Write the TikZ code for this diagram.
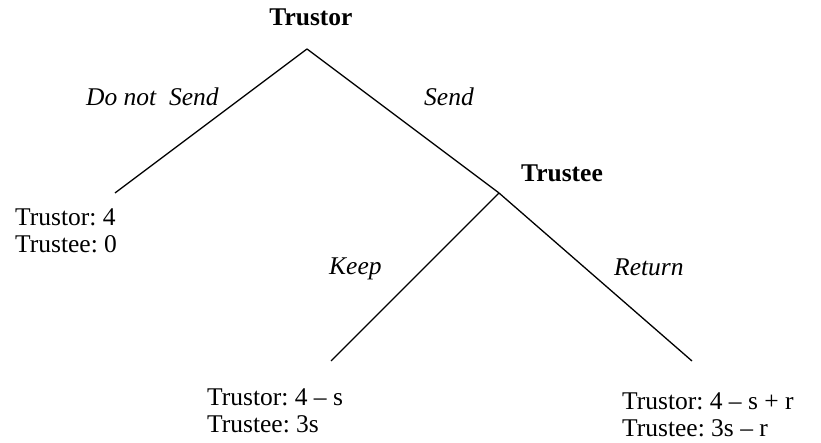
\documentclass[tikz,border=0pt]{standalone}
\usepackage{fontspec}
\setmainfont{Liberation Serif}
\usetikzlibrary{positioning}
\frenchspacing

\begin{document}
\begin{tikzpicture}[x=1pt, y=-1pt,
        every node/.style={inner sep=0pt, font=\fontsize{25.5}{27}\selectfont},
        pl/.style={font=\fontsize{25.5}{27}\selectfont\bfseries},
        act/.style={font=\fontsize{25.5}{27}\selectfont\itshape},
        pay/.style={align=left, anchor=north west},
        br/.style={line width=1.3pt}]
      \useasboundingbox (0,0) rectangle (821,443);
      % tree vertices
      \coordinate (root) at (307,49);
      \coordinate (nosend) at (115,193);
      \coordinate (tee) at (499,193);
      \coordinate (keep) at (331,361);
      \coordinate (ret) at (692,361);
      \draw[br] (root) -- (nosend);
      \draw[br] (root) -- (tee);
      \draw[br] (tee) -- (keep);
      \draw[br] (tee) -- (ret);
      % players
      \node[pl, anchor=base] (trustor) at (311,26) {Trustor};
      \node[pl, anchor=base west] (trustee) at (521,182) {Trustee};
      % actions
      \node[act, anchor=base west] (dns) at (86,106) {Do not\ \ Send};
      \node[act, anchor=base west] (send) at (424,106) {Send};
      \node[act, anchor=base west] (kp) at (329,275) {Keep};
      \node[act, anchor=base west] (rt) at (614,276) {Return};
      % payoffs
      \node[pay] (pay1) at (15,209) {Trustor: 4\\Trustee: 0};
      \node[pay] (pay2) at (207,389) {Trustor: 4 -- s\\Trustee: 3s};
      \node[pay] (pay3) at (622,393) {Trustor: 4 -- s + r\\Trustee: 3s -- r};
    \end{tikzpicture}
\end{document}
